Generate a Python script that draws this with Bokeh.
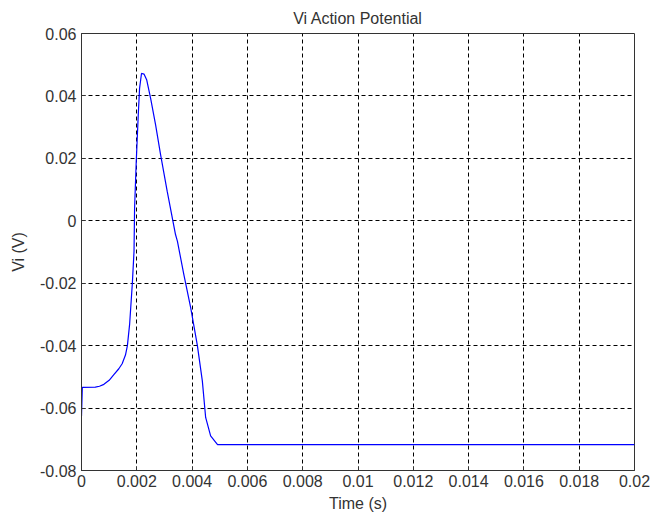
from bokeh.plotting import figure
from bokeh.models import Range1d, FixedTicker, PrintfTickFormatter
from bokeh.embed import file_html
from bokeh.resources import INLINE

# Data
time_s = [0.0, 0.00003, 0.0005, 0.00065, 0.00081, 0.001, 0.00117, 0.00135, 0.00147,
          0.00159, 0.00166, 0.00174, 0.00178, 0.00184, 0.0019, 0.00192, 0.00198, 0.00205,
          0.0021, 0.00217, 0.00226, 0.00236, 0.0025, 0.00268, 0.00286, 0.0031, 0.0034,
          0.00347, 0.0037, 0.00395, 0.00419, 0.00437, 0.00449, 0.00467, 0.00492, 0.02]
vi_v = [-0.0625, -0.0534, -0.0533, -0.0530, -0.0524, -0.0511, -0.0493, -0.0474, -0.0458,
        -0.0430, -0.040, -0.0332, -0.0279, -0.0199, -0.0097, 0.0041, 0.019, 0.0334,
        0.0424, 0.0472, 0.047, 0.0451, 0.0392, 0.0307, 0.0212, 0.0094, -0.0044,
        -0.0066, -0.0172, -0.0279, -0.0399, -0.0513, -0.063, -0.0689, -0.0717, -0.0717]

x_ticks = [0, 0.002, 0.004, 0.006, 0.008, 0.01, 0.012, 0.014, 0.016, 0.018, 0.02]
y_ticks = [-0.08, -0.06, -0.04, -0.02, 0, 0.02, 0.04, 0.06]

FONT = "Liberation Sans"
TXT = "#333333"

p = figure(width=652, height=516, output_backend="svg", toolbar_location=None,
           x_range=Range1d(0, 0.02), y_range=Range1d(-0.08, 0.06),
           min_border_left=81, min_border_right=18, min_border_top=33, min_border_bottom=46,
           title="Vi Action Potential")
p.background_fill_color = "white"
p.border_fill_color = "white"
p.outline_line_color = "#333333"
p.outline_line_width = 1

p.title.align = "center"
p.title.text_font = FONT
p.title.text_font_size = "16px"
p.title.text_font_style = "normal"
p.title.text_color = TXT
p.title.standoff = 14

p.line(time_s, vi_v, line_color="#0000FF", line_width=1.2)

for ax in (p.xaxis[0], p.yaxis[0]):
    ax.major_label_text_font = FONT
    ax.major_label_text_font_size = "16px"
    ax.major_label_text_color = TXT
    ax.axis_label_text_font = FONT
    ax.axis_label_text_font_size = "16px"
    ax.axis_label_text_font_style = "normal"
    ax.axis_label_text_color = TXT
    ax.major_tick_in = 4
    ax.major_tick_out = 0
    ax.minor_tick_line_color = None
    ax.axis_line_color = "#333333"
    ax.major_tick_line_color = "#333333"

p.xaxis[0].ticker = FixedTicker(ticks=x_ticks)
p.yaxis[0].ticker = FixedTicker(ticks=y_ticks)
p.xaxis[0].formatter = PrintfTickFormatter(format="%g")
p.yaxis[0].formatter = PrintfTickFormatter(format="%g")
p.xaxis[0].axis_label = "Time (s)"
p.yaxis[0].axis_label = "Vi (V)"
p.xaxis[0].major_label_standoff = 4
p.xaxis[0].axis_label_standoff = 5
p.yaxis[0].major_label_standoff = 5
p.yaxis[0].axis_label_standoff = 10

p.xgrid[0].ticker = FixedTicker(ticks=x_ticks)
p.ygrid[0].ticker = FixedTicker(ticks=y_ticks)
for g in (p.xgrid[0], p.ygrid[0]):
    g.grid_line_color = "black"
    g.grid_line_dash = "4 3"
    g.grid_line_width = 1

open("out.html", "w").write(file_html(p, INLINE))
